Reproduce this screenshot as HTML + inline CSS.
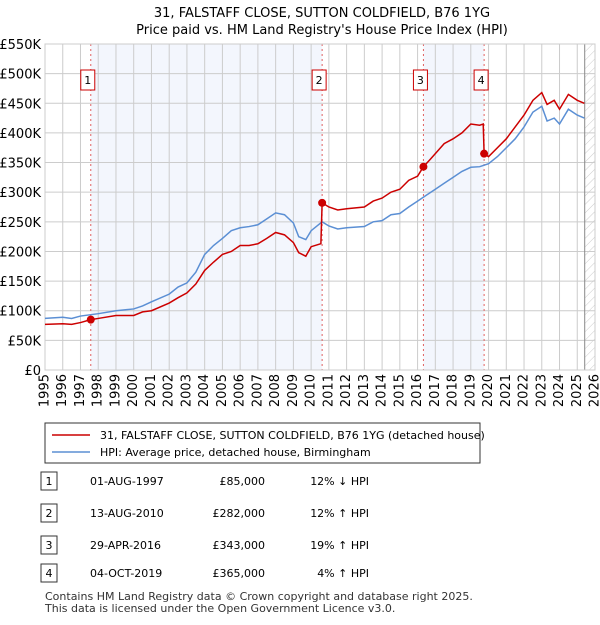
<!DOCTYPE html>
<html><head><meta charset="utf-8"><style>
body{margin:0;width:600px;height:620px;background:#fff;font-family:"Liberation Sans","DejaVu Sans",sans-serif;overflow:hidden}
</style></head><body>
<svg id="c" width="600" height="620" xmlns="http://www.w3.org/2000/svg" font-family="DejaVu Sans, Liberation Sans, sans-serif">
<defs><pattern id="hatch" width="6" height="6" patternUnits="userSpaceOnUse" patternTransform="rotate(45)"><line x1="0" y1="0" x2="0" y2="6" stroke="#ccc" stroke-width="1"/></pattern></defs>
<text x="322" y="17" text-anchor="middle" font-size="13">31, FALSTAFF CLOSE, SUTTON COLDFIELD, B76 1YG</text>
<text x="322" y="34" text-anchor="middle" font-size="13">Price paid vs. HM Land Registry's House Price Index (HPI)</text>
<g id="plot"></g>
<g>
<rect x="45" y="423" width="435" height="40" fill="#fff" stroke="#333"/>
<line x1="52" y1="435" x2="90" y2="435" stroke="#cc0000" stroke-width="1.5"/>
<text x="100" y="439" font-size="11">31, FALSTAFF CLOSE, SUTTON COLDFIELD, B76 1YG (detached house)</text>
<line x1="52" y1="452" x2="90" y2="452" stroke="#5b8fd4" stroke-width="1.5"/>
<text x="100" y="456" font-size="11">HPI: Average price, detached house, Birmingham</text>
</g>
<g id="tbl" font-size="11"></g>
<text x="45" y="600" font-size="11" fill="#333">Contains HM Land Registry data © Crown copyright and database right 2025.</text>
<text x="45" y="612" font-size="11" fill="#333">This data is licensed under the Open Government Licence v3.0.</text>
</svg>
<script>
const hpiYears=[1995,1996,1996.5,1997,1998,1999,2000,2000.5,2001,2002,2002.5,2003,2003.5,2004,2004.5,2005,2005.5,2006,2006.5,2007,2007.5,2008,2008.5,2009,2009.3,2009.7,2010,2010.62,2011,2011.5,2012,2013,2013.5,2014,2014.5,2015,2015.5,2016,2016.5,2017,2017.5,2018,2018.5,2019,2019.5,2020,2020.5,2021,2021.5,2022,2022.5,2023,2023.3,2023.7,2024,2024.5,2025,2025.4];
const hpiValues=[87,89,87,91,95,100,103,108,115,128,140,147,165,195,210,222,235,240,242,245,255,265,262,248,225,220,235,250,243,238,240,242,250,252,262,264,275,285,295,305,315,325,335,342,343,348,360,375,390,410,435,445,420,425,415,440,430,425];
const redYears=[1995,1996,1996.5,1997,1997.58,1998,1999,2000,2000.5,2001,2002,2002.5,2003,2003.5,2004,2004.5,2005,2005.5,2006,2006.5,2007,2007.5,2008,2008.5,2009,2009.3,2009.7,2010,2010.55,2010.62,2011,2011.5,2012,2013,2013.5,2014,2014.5,2015,2015.5,2016,2016.33,2016.7,2017,2017.5,2018,2018.5,2019,2019.5,2019.7,2019.75,2020,2020.5,2021,2021.5,2022,2022.5,2023,2023.3,2023.7,2024,2024.5,2025,2025.4];
const redValues=[77,78,77,80,85,87,92,92,98,100,113,122,130,145,168,182,195,200,210,210,213,222,232,228,215,198,192,208,213,282,275,270,272,275,285,290,300,305,320,327,343,355,365,382,390,400,415,413,415,365,360,375,390,410,430,455,468,448,455,440,465,455,450];
const saleYears=[1997.58,2010.62,2016.33,2019.75];
const salePrices=[85,282,343,365];
const saleLabels=["1","2","3","4"];
const saleDates=["01-AUG-1997","13-AUG-2010","29-APR-2016","04-OCT-2019"];
const salePriceText=["£85,000","£282,000","£343,000","£365,000"];
const saleHpiText=["12% ↓ HPI","12% ↑ HPI","19% ↑ HPI","4% ↑ HPI"];
const yTicks=[0,50,100,150,200,250,300,350,400,450,500,550];
const xTicks=[1995,1996,1997,1998,1999,2000,2001,2002,2003,2004,2005,2006,2007,2008,2009,2010,2011,2012,2013,2014,2015,2016,2017,2018,2019,2020,2021,2022,2023,2024,2025,2026];
const nowYear=2025.42;

const X0=45,X1=595,Y0=370,Y1=44;
const xs=y=>X0+(y-1995)/(2026-1995)*(X1-X0);
const ys=v=>Y0-v/550*(Y0-Y1);
const NS="http://www.w3.org/2000/svg";
const plot=document.getElementById('plot');
function mk(tag,attrs,parent){const e=document.createElementNS(NS,tag);for(const k in attrs)e.setAttribute(k,attrs[k]);(parent||plot).appendChild(e);return e;}

let r=mk('rect',{x:X0,y:Y1,width:X1-X0,height:Y0-Y1,fill:'#fff'});


[[0,1],[2,3]].forEach(([a,b])=>{
  const s=mk('rect',{x:xs(saleYears[a]),y:Y1,width:xs(saleYears[b])-xs(saleYears[a]),height:Y0-Y1,fill:'#eef2fc',opacity:0.7});
  
  
});
const h=mk('rect',{x:xs(nowYear),y:Y1,width:X1-xs(nowYear),height:Y0-Y1,fill:'url(#hatch)'});


yTicks.forEach(v=>{
  const l=mk('line',{x1:X0,x2:X1,y1:ys(v),y2:ys(v),stroke:'#ccc'});
  
  
  const t=mk('text',{x:X0-4,y:ys(v)+5,'text-anchor':'end','font-size':13});
  t.textContent=v===0?'£0':'£'+v+'K';
  
  
});
xTicks.forEach(y=>{
  const l=mk('line',{x1:xs(y),x2:xs(y),y1:Y1,y2:Y0,stroke:'#ccc'});
  
  
  const t=mk('text',{x:xs(y),y:Y0+4,'font-size':13,transform:`rotate(-90 ${xs(y)} ${Y0+4})`,'text-anchor':'end','dominant-baseline':'middle'});
  t.textContent=y;
  
  
});
const nl=mk('line',{x1:xs(nowYear),x2:xs(nowYear),y1:Y1,y2:Y0,stroke:'#888'});


saleYears.forEach((y,i)=>{
  const l=mk('line',{x1:xs(y),x2:xs(y),y1:Y1,y2:Y0,stroke:'#e06060','stroke-dasharray':'2,3'});
  
  
  const b=mk('rect',{x:xs(y)-10,y:70,width:14,height:20,fill:'#fff',stroke:'#cc0000'});
  
  
  const t=mk('text',{x:xs(y)-3,y:84,'text-anchor':'middle','font-size':11});
  t.textContent=saleLabels[i];
  
  
});
const bd=mk('rect',{x:X0,y:Y1,width:X1-X0,height:Y0-Y1,fill:'none',stroke:'#ccc'});


const hp=mk('polyline',{points:hpiYears.map((y,i)=>xs(y)+','+ys(hpiValues[i])).join(' '),fill:'none',stroke:'#5b8fd4','stroke-width':1.5});


const rp=mk('polyline',{points:redYears.map((y,i)=>xs(y)+','+ys(redValues[i])).join(' '),fill:'none',stroke:'#cc0000','stroke-width':1.5});


saleYears.forEach((y,i)=>{
  const c=mk('circle',{cx:xs(y),cy:ys(salePrices[i]),r:4,fill:'#cc0000'});
  
  
});
const tbl=document.getElementById('tbl');
const rowY=[482,514,546,574];
saleYears.forEach((y,i)=>{
  const ry=rowY[i];
  const b=mk('rect',{x:41,y:ry-10,width:16,height:18,fill:'#fff',stroke:'#333'},tbl);
  
  
  const n=mk('text',{x:49,y:ry+3,'text-anchor':'middle'},tbl);n.textContent=saleLabels[i];
  
  
  const d=mk('text',{x:90,y:ry+3},tbl);d.textContent=saleDates[i];
  
  
  const p=mk('text',{x:265,y:ry+3,'text-anchor':'end'},tbl);p.textContent=salePriceText[i];
  
  
  const q=mk('text',{x:369,y:ry+3,'text-anchor':'end'},tbl);q.textContent=saleHpiText[i];
  
  
});
</script>
</body></html>
